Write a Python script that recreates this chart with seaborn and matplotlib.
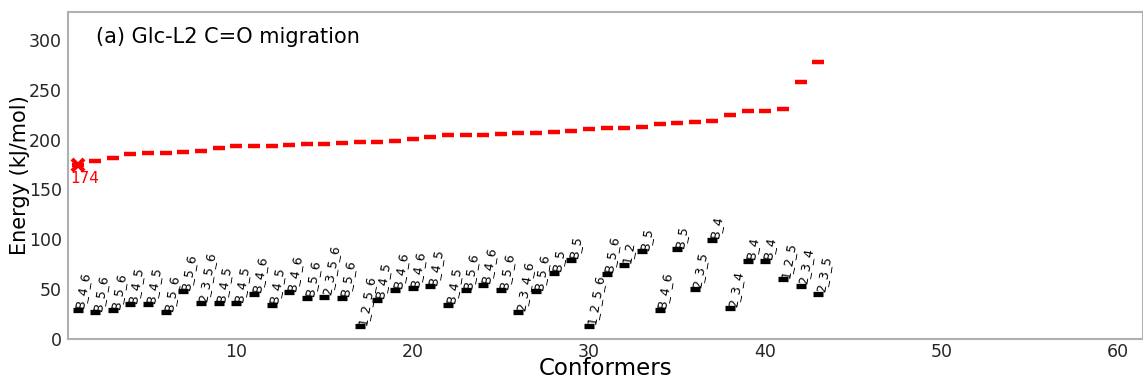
import numpy as np
import pandas as pd
import matplotlib
matplotlib.use('Agg')
import matplotlib.pyplot as plt
import seaborn as sns

# conformer index, red = total energy, black = lowest sub-fragment energy
conformers = np.arange(1, 44)
energy = [174.5, 178.7, 182.0, 186.0, 187.0, 187.0, 187.4, 188.4, 191.8, 193.1,
          193.1, 193.9, 194.5, 195.1, 195.8, 196.8, 197.5, 198.1, 198.8, 200.5,
          202.5, 204.8, 204.8, 205.1, 205.8, 206.5, 206.8, 207.5, 208.8, 210.5,
          212.1, 212.1, 212.5, 215.6, 216.9, 217.9, 219.2, 224.6, 228.6, 229.2,
          231.2, 257.7, 278.4]
low_energy = [29.1, 26.4, 28.4, 34.8, 34.8, 26.4, 47.5, 35.8, 35.8, 35.8,
              45.2, 34.1, 46.5, 40.9, 41.9, 40.9, 12.3, 39.2, 49.2, 50.9,
              52.5, 34.1, 48.5, 54.2, 48.5, 26.4, 47.5, 66.0, 79.3, 13.0,
              65.3, 74.3, 87.7, 29.1, 90.0, 49.9, 99.4, 30.8, 78.3, 78.3,
              59.9, 53.2, 44.9]
site_labels = ['B_4_6', 'B_5_6', 'B_5_6', 'B_4_5', 'B_4_5', 'B_5_6', 'B_5_6', '2_3_5_6',
               'B_4_5', 'B_4_5', 'B_4_6', 'B_4_5', 'B_4_6', 'B_5_6', '2_3_5_6', 'B_5_6',
               '1_2_5_6', 'B_4_5', 'B_4_6', 'B_4_6', 'B_4_5', 'B_4_5', 'B_5_6', 'B_4_6',
               'B_5_6', '2_3_4_6', 'B_5_6', 'B_5', 'B_5', '1_2_5_6', 'B_5_6', '1_2',
               'B_5', 'B_4_6', 'B_5', '2_3_5', 'B_4', '2_3_4', 'B_4', 'B_4',
               '1_2_5', '2_3_4', '2_3_5']
title = '(a) Glc-L2 C=O migration'

df = pd.DataFrame({'conf': conformers, 'energy': energy, 'low': low_energy, 'label': site_labels})

sns.set_style('white')
plt.rcParams['font.family'] = ['DejaVu Sans']

fig = plt.figure(figsize=(11.43, 3.81), dpi=100)
ax = fig.add_axes([0.0598, 0.111, 0.940, 0.857])

# red dashes: energy of each conformer
sns.lineplot(data=df, x='conf', y='energy', ax=ax, linestyle='', marker='_',
             color='red', mec='red', ms=8, mew=3.2)
# lowest conformer marked with a cross
best = df.iloc[[0]]
sns.lineplot(data=best, x='conf', y='energy', ax=ax, linestyle='', marker='x',
             color='red', mec='red', ms=9, mew=3)
ax.annotate(str(int(best['energy'].iloc[0])), (best['conf'].iloc[0], best['energy'].iloc[0]),
            xytext=(-5, -4), textcoords='offset points', ha='left', va='top',
            color='red', fontsize=11)

# black dashes with rotated site labels
sns.lineplot(data=df, x='conf', y='low', ax=ax, linestyle='', marker='_',
             color='black', mec='black', ms=7.5, mew=3.8)
for _, r in df.iterrows():
    ax.annotate(r['label'], (r['conf'], r['low']), xytext=(-3, 2),
                textcoords='offset points', rotation=80, rotation_mode='anchor',
                ha='left', va='top', fontsize=9, color='black')

ax.text(0.026, 0.905, title, transform=ax.transAxes, fontsize=15, va='baseline',
        color='black')

ax.set_xlim(0.48, 61.4)
ax.set_ylim(0, 328)
ax.set_xticks([10, 20, 30, 40, 50, 60])
ax.set_yticks([0, 50, 100, 150, 200, 250, 300])
ax.set_xlabel('Conformers', fontsize=16.5, color='black', va='baseline')
ax.xaxis.set_label_coords(0.5, -0.1124)
ax.set_ylabel('Energy (kJ/mol)', fontsize=15, labelpad=-1, color='black')
ax.tick_params(axis='both', labelsize=12.5, length=2.5, pad=2,
               color='#b0b0b0', labelcolor='#262626')
ax.tick_params(axis='x', pad=0.8)
for s in ax.spines.values():
    s.set_color('#b0b0b0')
    s.set_linewidth(1.5)

fig.savefig('out.png', dpi=100)
